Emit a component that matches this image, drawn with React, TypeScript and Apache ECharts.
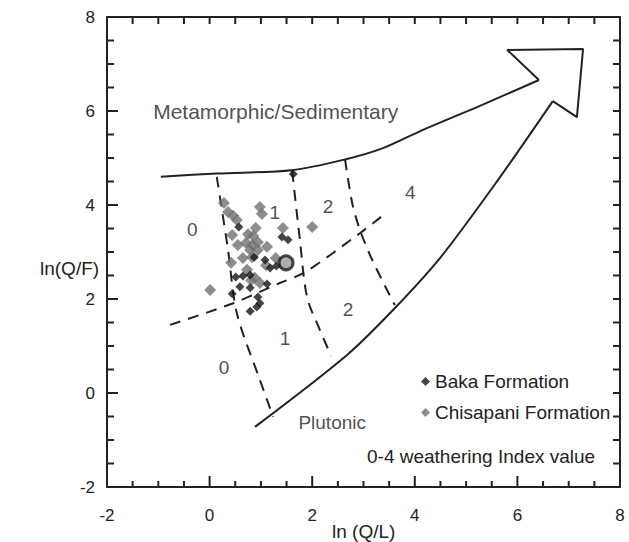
import React, { useEffect, useRef } from "react";
import * as echarts from "echarts";

// Scatter data: [ln(Q/L), ln(Q/F)]
const bakaFormation: number[][] = [
  [0.57, 3.53], [1.41, 3.32], [1.53, 3.26], [0.87, 2.89], [1.08, 2.83], [1.18, 2.66],
  [0.51, 2.47], [0.65, 2.49], [0.79, 2.51], [0.44, 2.11], [0.59, 2.26], [0.79, 2.24],
  [1.12, 2.32], [0.94, 2.04], [0.98, 1.91], [0.92, 1.83], [0.79, 1.74], [1.63, 4.66],
  [1.30, 2.70],
];

const chisapaniFormation: number[][] = [
  [0.28, 4.04], [0.36, 3.85], [0.46, 3.77], [0.53, 3.68], [0.98, 3.96], [1.02, 3.81],
  [0.90, 3.51], [1.43, 3.51], [0.44, 3.36], [0.75, 3.38], [0.85, 3.34], [0.55, 3.15],
  [0.71, 3.19], [0.83, 3.15], [0.94, 3.21], [1.12, 3.11], [0.79, 3.04], [0.94, 3.04],
  [0.65, 2.87], [0.83, 2.89], [1.29, 2.87], [0.42, 2.77], [1.10, 2.72], [0.73, 2.62],
  [0.88, 2.45], [0.98, 2.34], [0.01, 2.19], [2.00, 3.53], [0.81, 2.40],
];

const meanPoint: number[][] = [[1.49, 2.77]];

// Boundary curves
const metamorphicBoundary: number[][] = [
  [-0.95, 4.6], [0.14, 4.67], [1.6, 4.74], [2.64, 4.97], [3.38, 5.21], [4.16, 5.6],
  [5.27, 6.11], [6.42, 6.66],
];
const arrowHead: number[][] = [
  [6.42, 6.66], [5.8, 7.3], [7.28, 7.32], [7.16, 5.87], [6.69, 6.21],
];
const plutonicBoundary: number[][] = [
  [6.69, 6.21], [5.62, 4.53], [4.49, 2.87], [3.58, 1.77], [2.68, 0.81], [0.885, -0.72],
];

// Weathering index dashed lines
const weatheringDivide: number[][] = [
  [-0.77, 1.45], [0.46, 1.91], [1.37, 2.34], [1.86, 2.57], [2.93, 3.4], [3.46, 3.85],
];
const index0to1: number[][] = [
  [0.14, 4.6], [0.36, 3.04], [0.53, 1.7], [0.98, 0.28], [1.24, -0.51],
];
const index1to2: number[][] = [
  [1.61, 4.72], [1.76, 3.26], [1.9, 2.04], [2.15, 1.34], [2.37, 0.79],
];
const index2to3: number[][] = [
  [2.64, 4.97], [2.78, 4.04], [2.93, 3.47], [3.17, 2.83], [3.61, 1.87],
];

const regionLabels = [
  { name: "0", value: [-0.34, 3.47] },
  { name: "1", value: [1.27, 3.85] },
  { name: "2", value: [2.31, 3.96] },
  { name: "4", value: [3.91, 4.26] },
  { name: "0", value: [0.28, 0.55] },
  { name: "1", value: [1.47, 1.17] },
  { name: "2", value: [2.7, 1.77] },
];

const fieldLabels = [
  { name: "Metamorphic/Sedimentary", value: [-1.1, 5.98], align: "left", size: 21 },
  { name: "Plutonic", value: [2.39, -0.62], align: "center", size: 19 },
];

// Tick positions (both axes share the same -2..8 range)
const majorTicks = [-2, 0, 2, 4, 6, 8];
const minorTicks = [-1.5, -1, -0.5, 0.5, 1, 1.5, 2.5, 3, 3.5, 4.5, 5, 5.5, 6.5, 7, 7.5];

const FONT = "'Liberation Sans', Arial, sans-serif";
const INK = "#222";

const AXIS_MIN = -2;
const AXIS_MAX = 8;
const GRID = { left: 107, right: 9, top: 17, bottom: 55 };
const CHART_W = 629;
const CHART_H = 542;

export default function App() {
  const ref = useRef<HTMLDivElement>(null);

  useEffect(() => {
    if (!ref.current) return;
    const chart = echarts.init(ref.current, undefined, { renderer: "svg" });

    const solid = (data: number[][], smooth: number | boolean) => ({
      type: "line",
      data,
      smooth,
      symbol: "none",
      silent: true,
      lineStyle: { color: INK, width: 2 },
      z: 2,
    });
    const dashed = (data: number[][]) => ({
      type: "line",
      data,
      smooth: 0.3,
      symbol: "none",
      silent: true,
      lineStyle: { color: INK, width: 2, type: [11, 8] },
      z: 2,
    });

    // tick lengths converted from pixels to axis units
    const span = AXIS_MAX - AXIS_MIN;
    const pxPerX = (CHART_W - GRID.left - GRID.right) / span;
    const pxPerY = (CHART_H - GRID.top - GRID.bottom) / span;
    const tickSeries: any[] = [];
    const tickLine = (a: number[], b: number[]) => ({
      type: "line",
      data: [a, b],
      symbol: "none",
      silent: true,
      clip: false,
      animation: false,
      lineStyle: { color: INK, width: 2 },
      z: 6,
    });
    const addTicks = (values: number[], major: boolean) => {
      values.forEach((v) => {
        const lenB = (major ? 11 : 6) / pxPerY;
        const lenT = 7 / pxPerY;
        const lenL = (major ? 11 : 7) / pxPerX;
        const lenR = 7 / pxPerX;
        tickSeries.push(
          tickLine([v, AXIS_MIN], [v, AXIS_MIN + lenB]),
          tickLine([v, AXIS_MAX], [v, AXIS_MAX - lenT]),
          tickLine([AXIS_MIN, v], [AXIS_MIN + lenL, v]),
          tickLine([AXIS_MAX, v], [AXIS_MAX - lenR, v])
        );
      });
    };
    addTicks(majorTicks, true);
    addTicks(minorTicks, false);

    const axisLine = { show: true, onZero: false, lineStyle: { color: INK, width: 2 } };
    const baseAxis = {
      type: "value",
      min: AXIS_MIN,
      max: AXIS_MAX,
      axisLine,
      splitLine: { show: false },
      axisTick: { show: false },
    };

    chart.setOption({
      animation: false,
      backgroundColor: "#fff",
      grid: GRID,
      xAxis: [
        {
          ...baseAxis,
          interval: 2,
          position: "bottom",
          axisLabel: { fontSize: 17, color: INK, fontFamily: FONT, margin: 20 },
        },
        {
          ...baseAxis,
          interval: 2,
          position: "top",
          axisLabel: { show: false },
        },
      ],
      yAxis: [
        {
          ...baseAxis,
          interval: 2,
          position: "left",
          axisLabel: { fontSize: 17, color: INK, fontFamily: FONT, margin: 12 },
        },
        {
          ...baseAxis,
          interval: 2,
          position: "right",
          axisLabel: { show: false },
        },
      ],
      legend: {
        data: ["Baka Formation", "Chisapani Formation"],
        orient: "vertical",
        left: 416,
        top: 367,
        icon: "diamond",
        itemWidth: 9,
        itemHeight: 9,
        itemGap: 12,
        textStyle: { fontSize: 19, color: INK, fontFamily: FONT },
      },
      graphic: [
        {
          type: "text",
          left: 40,
          top: 259,
          style: { text: "ln(Q/F)", fontSize: 19, fill: INK, fontFamily: FONT },
        },
        {
          type: "text",
          left: 332,
          top: 522,
          style: { text: "ln (Q/L)", fontSize: 19, fill: INK, fontFamily: FONT },
        },
        {
          type: "text",
          left: 367,
          top: 447,
          style: { text: "0-4 weathering Index value", fontSize: 19, fill: INK, fontFamily: FONT },
        },
      ],
      series: [
        ...tickSeries,
        solid(metamorphicBoundary, 0.3),
        solid(arrowHead, false),
        solid(plutonicBoundary, 0.3),
        dashed(weatheringDivide),
        dashed(index0to1),
        dashed(index1to2),
        dashed(index2to3),
        {
          type: "scatter",
          name: "Chisapani Formation",
          data: chisapaniFormation,
          symbol: "diamond",
          symbolSize: 12,
          itemStyle: { color: "#717171" },
          z: 3,
        },
        {
          type: "scatter",
          name: "Baka Formation",
          data: bakaFormation,
          symbol: "diamond",
          symbolSize: 9,
          itemStyle: { color: "#151515" },
          z: 4,
        },
        {
          type: "scatter",
          name: "mean",
          data: meanPoint,
          symbol: "circle",
          symbolSize: 14,
          itemStyle: { color: "#9a9a9a", borderColor: "#1a1a1a", borderWidth: 3 },
          z: 5,
        },
        {
          type: "scatter",
          name: "regions",
          data: regionLabels,
          symbolSize: 0,
          silent: true,
          label: {
            show: true,
            position: "inside",
            formatter: (p: any) => p.name,
            fontSize: 19,
            color: INK,
            fontFamily: FONT,
          },
        },
        {
          type: "scatter",
          name: "fields",
          data: fieldLabels.map((f) => ({
            name: f.name,
            value: f.value,
            label: { align: f.align, fontSize: f.size },
          })),
          symbolSize: 0,
          silent: true,
          label: {
            show: true,
            position: "inside",
            formatter: (p: any) => p.name,
            color: INK,
            fontFamily: FONT,
          },
        },
      ],
    });

    return () => chart.dispose();
  }, []);

  return (
    <div
      ref={ref}
      style={{ position: "absolute", left: 0, top: 0, width: CHART_W, height: CHART_H }}
    />
  );
}
